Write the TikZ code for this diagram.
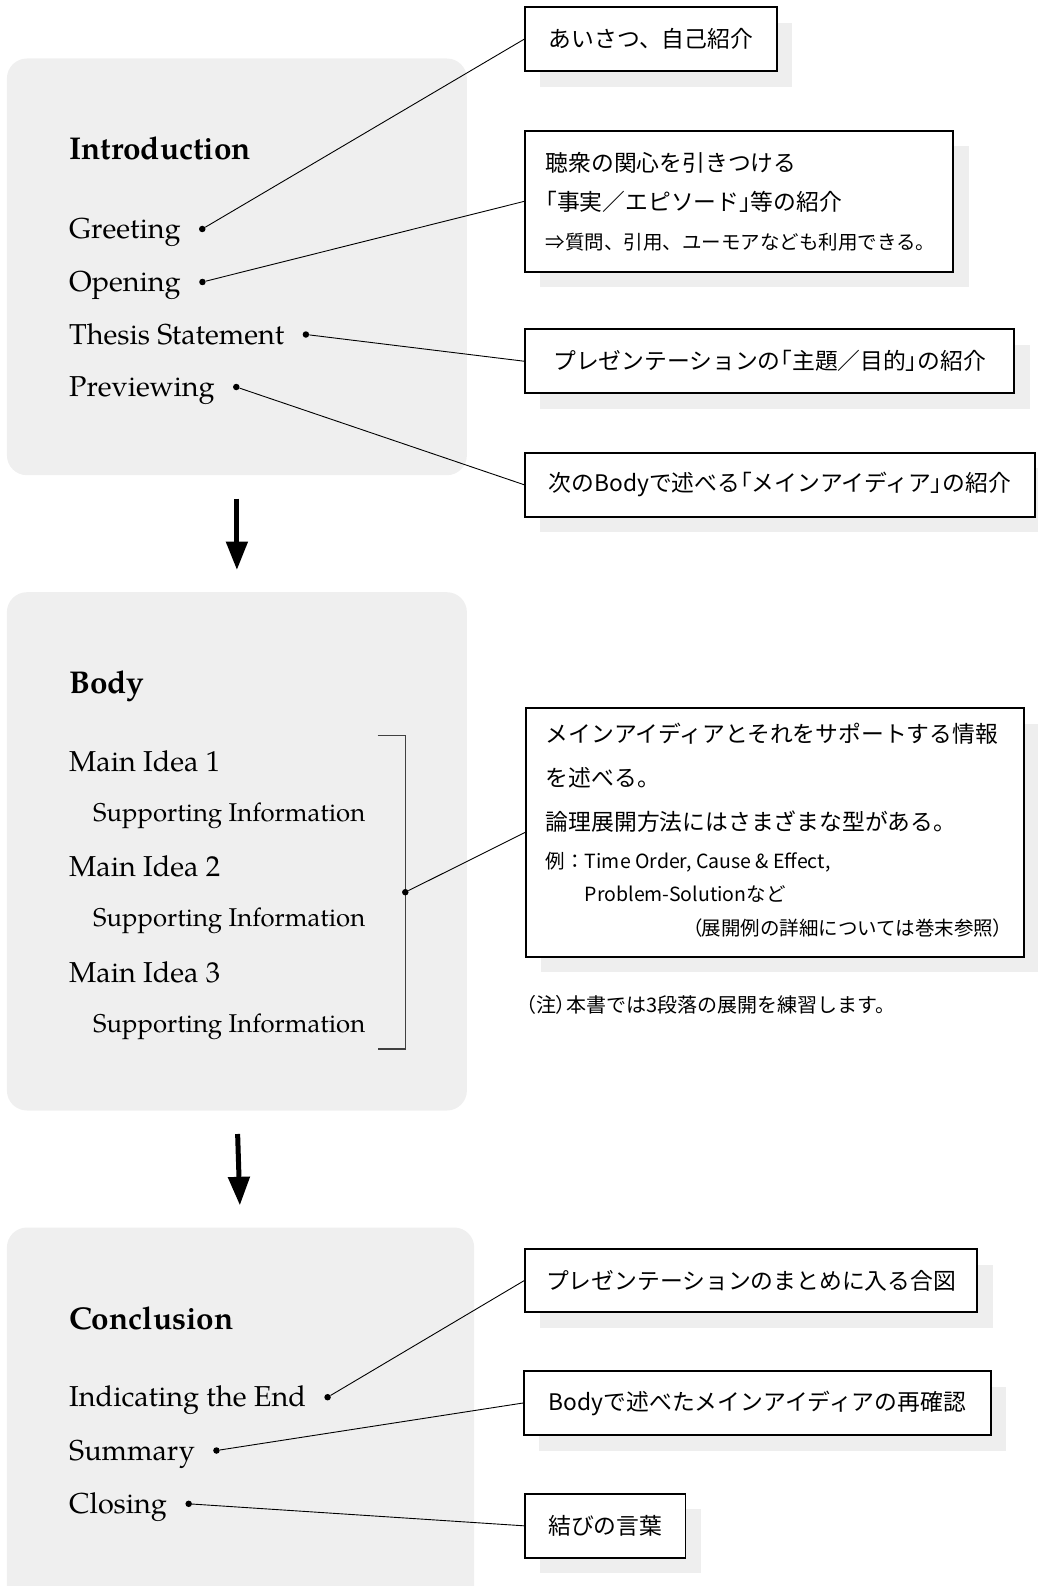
\documentclass[tikz,border=0pt]{standalone}
\usepackage{fontspec}
\setmainfont{TeX Gyre Pagella}
\newfontfamily\jp{Noto Sans CJK JP}
\newfontfamily\jpp{Noto Sans CJK JP}[RawFeature=+palt]
\newcommand\jpalt[1]{{\jpp #1}}
\usetikzlibrary{arrows.meta,calc,shadows}
\definecolor{panelc}{gray}{0.937}
\definecolor{shadowc}{gray}{0.933}
\begin{document}
\begin{tikzpicture}[x=1pt,y=-1pt,
  panel/.style={fill=panelc, draw=none, rounded corners=20pt, inner sep=0pt, anchor=north west},
  item/.style={anchor=base west, inner sep=0pt, font=\fontsize{28.8}{34}\selectfont},
  subitem/.style={anchor=base west, inner sep=0pt, font=\fontsize{25.7}{30}\selectfont},
  heading/.style={anchor=base west, inner sep=0pt, font=\fontsize{31.5}{36}\selectfont\bfseries},
  dotnode/.style={circle, fill=black, inner sep=0pt, minimum size=6.5pt},
  notebox/.style={draw=black, line width=1.8pt, fill=white, inner sep=0pt,
    font=\jp\fontsize{22.8}{28}\selectfont,
    drop shadow={shadow xshift=15.5pt, shadow yshift=-15.5pt, fill=shadowc, opacity=1}},
  conn/.style={line width=0.9pt, draw=black},
  bracketline/.style={line width=1.2pt, draw=black!75},
  flow/.style={line width=5pt, -{Triangle[width=21pt,length=28.5pt]}, shorten <=23.3pt, shorten >=22pt},
  jtext/.style={anchor=base west, inner sep=0pt, font=\jp\fontsize{22.8}{28}\selectfont},
  jsmall/.style={anchor=base west, inner sep=0pt, font=\jp\fontsize{19.5}{24}\selectfont},
]
\useasboundingbox (0,0) rectangle (1037,1586);

% ---------- panels ----------
\node[panel, minimum width=460pt, minimum height=416.7pt] (intro) at (6.7,58.3) {};
\node[panel, minimum width=460pt, minimum height=518.3pt] (body) at (6.7,592) {};
\node[panel, minimum width=467.3pt, minimum height=380pt] (concl) at (6.7,1227.3) {};

\draw[flow] (intro.south) -- (body.north);
\draw[flow] (body.south) -- (concl.north);

% ---------- Introduction ----------
\node[heading] (tintro) at (69,160) {Introduction};
\node[item] (greet) at (69,238.5) {Greeting};
\node[item] (open) at (69,291.5) {Opening};
\node[item] (thesis) at (69,344) {Thesis Statement};
\node[item] (prev) at (69,396.5) {Previewing};

\node[dotnode] (dgreet) at ($(greet.base east)+(21.5,-9.5)$) {};
\node[dotnode] (dopen) at ($(open.base east)+(21.5,-9.5)$) {};
\node[dotnode] (dthesis) at ($(thesis.base east)+(21.5,-9.5)$) {};
\node[dotnode] (dprev) at ($(prev.base east)+(21.5,-9.5)$) {};

\node[notebox, anchor=west, minimum width=252pt, minimum height=64pt] (b1) at (524,39.3) {あいさつ、自己紹介};

\node[notebox, anchor=north west, minimum width=428.4pt, minimum height=141pt] (b2) at (524,130) {};
\node[jtext] (b2a) at ($(b2.north west)+(21.5,41.4)$) {聴衆の関心を引きつける};
\node[jtext] (b2b) at ($(b2.north west)+(21.5,80.4)$) {\jpalt{「}事実／エピソード\jpalt{」}等の紹介};
\node[jsmall] (b2c) at ($(b2.north west)+(21.5,119.7)$) {⇒質問、引用、ユーモアなども利用できる。};

\node[notebox, anchor=west, minimum width=489.4pt, minimum height=64.3pt] (b3) at (524,361.2) {プレゼンテーションの\jpalt{「}主題／目的\jpalt{」}の紹介};
\node[notebox, anchor=west, minimum width=510pt, minimum height=64pt] (b4) at (524,484.7) {次のBodyで述べる\jpalt{「}メインアイディア\jpalt{」}の紹介};

\draw[conn] (dgreet) -- (b1.west);
\draw[conn] (dopen) -- (b2.west);
\draw[conn] (dthesis) -- (b3.west);
\draw[conn] (dprev) -- (b4.west);

% ---------- Body ----------
\node[heading] (tbody) at (69,693) {Body};
\node[item] (mi1) at (69,771) {Main Idea 1};
\node[subitem] (si1) at (93,821) {Supporting Information};
\node[item] (mi2) at (69,876.5) {Main Idea 2};
\node[subitem] (si2) at (93,926.5) {Supporting Information};
\node[item] (mi3) at (69,982) {Main Idea 3};
\node[subitem] (si3) at (93,1032) {Supporting Information};

\coordinate (brtl) at (377.7,735.5);
\coordinate (brtr) at (405.3,735.5);
\coordinate (brbr) at (405.3,1049);
\coordinate (brbl) at (377.7,1049);
\draw[bracketline] (brtl) -- (brtr) -- (brbr) -- (brbl);
\node[dotnode] (dbody) at (405.3,892.2) {};

\node[notebox, anchor=north west, minimum width=497.8pt, minimum height=248.4pt] (b5) at (525,707.3) {};
\node[jtext] (b5a) at ($(b5.north west)+(20.7,34.7)$) {メインアイディアとそれをサポートする情報};
\node[jtext] (b5b) at ($(b5.north west)+(20.7,78.7)$) {を述べる。};
\node[jtext] (b5c) at ($(b5.north west)+(20.7,123.1)$) {論理展開方法にはさまざまな型がある。};
\node[jsmall] (b5d) at ($(b5.north west)+(20.7,160.8)$) {例：Time Order, Cause \& Effect,};
\node[jsmall] (b5e) at ($(b5.north west)+(59.7,194.1)$) {Problem-Solutionなど};
\node[jsmall, anchor=base east] (b5f) at (1003.4,935.7) {\jpalt{（}展開例の詳細については巻末参照\jpalt{）}};

\draw[conn] (dbody) -- (b5.west);

\node[jsmall, font=\jp\fontsize{20}{24}\selectfont] (note) at (526,1012.6) {\jpalt{（}注\jpalt{）}本書では3段落の展開を練習します。};

% ---------- Conclusion ----------
\node[heading] (tconcl) at (69,1329.3) {Conclusion};
\node[item] (indic) at (69,1406.7) {Indicating the End};
\node[item] (summ) at (69,1460) {Summary};
\node[item] (closing) at (69,1513.3) {Closing};

\node[dotnode] (dindic) at ($(indic.base east)+(21.5,-9.5)$) {};
\node[dotnode] (dsumm) at ($(summ.base east)+(21.5,-9.5)$) {};
\node[dotnode] (dclosing) at ($(closing.base east)+(21.5,-9.5)$) {};

\node[notebox, anchor=west, minimum width=452.4pt, minimum height=63.3pt] (b6) at (524,1280.7) {プレゼンテーションのまとめに入る合図};
\node[notebox, anchor=west, minimum width=467pt, minimum height=64pt] (b7) at (523,1403) {Bodyで述べたメインアイディアの再確認};
\node[notebox, anchor=west, minimum width=160.6pt, minimum height=63.7pt] (b8) at (524,1525.8) {結びの言葉};

\draw[conn] (dindic) -- (b6.west);
\draw[conn] (dsumm) -- (b7.west);
\draw[conn] (dclosing) -- (b8.west);
\end{tikzpicture}
\end{document}
